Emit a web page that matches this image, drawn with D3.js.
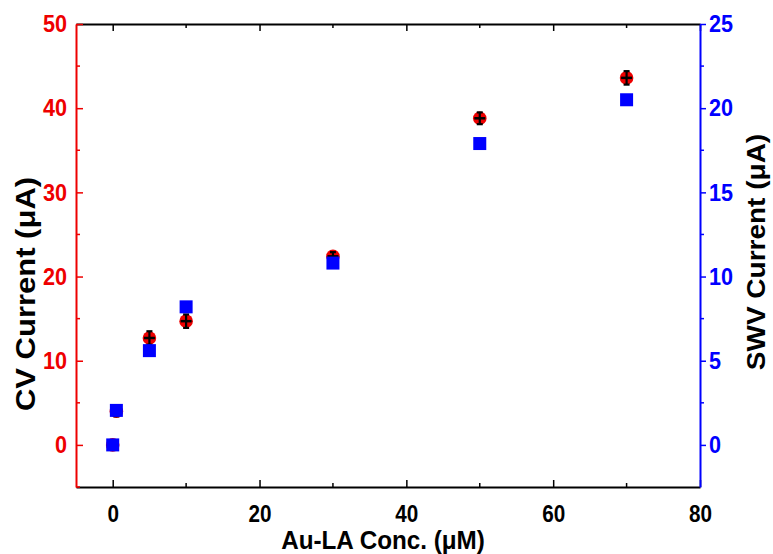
<!DOCTYPE html>
<html>
<head>
<meta charset="utf-8">
<script src="https://cdn.jsdelivr.net/npm/d3@7"></script>
<style>
body{margin:0;background:#fff;}
svg{display:block;font-family:"Liberation Sans",Arial,sans-serif;font-weight:bold;}
</style>
</head>
<body>
<svg id="c" width="773" height="554"></svg>
<script>
const conc = [0, 0.5, 5, 10, 30, 50, 70];
const cvCurrent = [0, 4.0, 12.7, 14.7, 22.4, 38.8, 43.6];
const cvError = [0.3, 0.6, 0.8, 0.8, 0.5, 0.7, 0.8];
const swvCurrent = [0, 2.05, 5.6, 8.2, 10.8, 17.9, 20.5];
const xTicks = [0, 20, 40, 60, 80];
const leftTicks = [0, 10, 20, 30, 40, 50];
const rightTicks = [0, 5, 10, 15, 20, 25];

const W = 773, H = 554;
const m = {l: 76, r: 73, t: 24, b: 67};
const SX = 0.9;
const svg = d3.select("#c");
const x = d3.scaleLinear().domain([-5, 80]).range([m.l, W - m.r]);
const yL = d3.scaleLinear().domain([-5, 50]).range([H - m.b, m.t]);
const yR = d3.scaleLinear().domain([-2.5, 25]).range([H - m.b, m.t]);
const RED = "#ee0000", BLUE = "#0000ff";

function styleAxis(g, color, size) {
  g.select(".domain").attr("stroke", color).attr("stroke-width", 2);
  g.selectAll(".tick line").attr("stroke", color).attr("stroke-width", 1.5);
  g.selectAll(".tick text").attr("fill", color).style("font-size", size + "px").style("font-weight", "bold")
    .style("font-family", '"Liberation Sans",Arial,sans-serif')
    .attr("transform", `scale(${SX},1)`);
}

const xMinor = [10, 30, 50, 70];
const lMinor = [-5, 5, 15, 25, 35, 45];
const rMinor = [2.5, 7.5, 12.5, 17.5, 22.5];

const gb = svg.append("g").attr("transform", `translate(0,${H - m.b})`)
  .call(d3.axisBottom(x).tickValues(xTicks).tickSizeInner(-7).tickSizeOuter(0).tickPadding(19));
styleAxis(gb, "#000", 23);
gb.selectAll(".tick text").attr("dy", "0.71em");
gb.selectAll(".minor").data(xMinor).enter().append("line")
  .attr("x1", d => x(d)).attr("x2", d => x(d)).attr("y1", 0).attr("y2", -4)
  .attr("stroke", "#000").attr("stroke-width", 1.5);

const gt = svg.append("g").attr("transform", `translate(0,${m.t})`)
  .call(d3.axisTop(x).tickValues(xTicks).tickSizeInner(-7).tickSizeOuter(0).tickFormat(""));
styleAxis(gt, "#000", 23);
gt.selectAll(".minor").data(xMinor).enter().append("line")
  .attr("x1", d => x(d)).attr("x2", d => x(d)).attr("y1", 0).attr("y2", 4)
  .attr("stroke", "#000").attr("stroke-width", 1.5);

const gl = svg.append("g").attr("transform", `translate(${m.l},0)`)
  .call(d3.axisLeft(yL).tickValues(leftTicks).tickSizeInner(-7).tickSizeOuter(0).tickPadding(10));
styleAxis(gl, RED, 24);
gl.selectAll(".minor").data(lMinor).enter().append("line")
  .attr("x1", 0).attr("x2", 4).attr("y1", d => yL(d)).attr("y2", d => yL(d))
  .attr("stroke", RED).attr("stroke-width", 1.5);

const gr = svg.append("g").attr("transform", `translate(${W - m.r},0)`)
  .call(d3.axisRight(yR).tickValues(rightTicks).tickSizeInner(6).tickSizeOuter(0).tickPadding(4));
styleAxis(gr, BLUE, 24);
gr.selectAll(".minor").data(rMinor).enter().append("line")
  .attr("x1", 0).attr("x2", 4).attr("y1", d => yR(d)).attr("y2", d => yR(d))
  .attr("stroke", BLUE).attr("stroke-width", 1.5);

svg.append("text").attr("transform", `translate(383,549) scale(0.97,1)`)
  .attr("text-anchor", "middle").style("font-size", "25px").attr("fill", "#000")
  .text("Au-LA Conc. (μM)");
svg.append("text").attr("transform", `translate(35,294) scale(${SX},1) rotate(-90)`)
  .attr("text-anchor", "middle").style("font-size", "31px").attr("fill", "#000")
  .text("CV Current (μA)");
svg.append("text").attr("transform", `translate(765,252) scale(${SX},1) rotate(-90)`)
  .attr("text-anchor", "middle").style("font-size", "28px").attr("fill", "#000")
  .text("SWV Current (μA)");

const pts = conc.map((c, i) => ({c, cv: cvCurrent[i], e: cvError[i], swv: swvCurrent[i]}));
const gp = svg.append("g");
gp.selectAll("circle.cv").data(pts).enter().append("circle")
  .attr("cx", d => x(d.c)).attr("cy", d => yL(d.cv)).attr("r", 6.8)
  .attr("fill", RED);
const ge = gp.selectAll("g.err").data(pts).enter().append("g").attr("stroke", "#000").attr("stroke-width", 2.2);
ge.append("line").attr("x1", d => x(d.c)).attr("x2", d => x(d.c))
  .attr("y1", d => yL(d.cv - d.e)).attr("y2", d => yL(d.cv + d.e));
ge.append("line").attr("x1", d => x(d.c) - 3).attr("x2", d => x(d.c) + 3)
  .attr("y1", d => yL(d.cv - d.e)).attr("y2", d => yL(d.cv - d.e));
ge.append("line").attr("x1", d => x(d.c) - 3).attr("x2", d => x(d.c) + 3)
  .attr("y1", d => yL(d.cv + d.e)).attr("y2", d => yL(d.cv + d.e));
ge.append("line").attr("x1", d => x(d.c) - 5.5).attr("x2", d => x(d.c) + 5.5)
  .attr("y1", d => yL(d.cv)).attr("y2", d => yL(d.cv)).attr("stroke-width", 2.5);
const s = 13;
gp.selectAll("rect.swv").data(pts).enter().append("rect")
  .attr("x", d => x(d.c) - s / 2).attr("y", d => yR(d.swv) - s / 2)
  .attr("width", s).attr("height", s).attr("fill", BLUE);
</script>
</body>
</html>
